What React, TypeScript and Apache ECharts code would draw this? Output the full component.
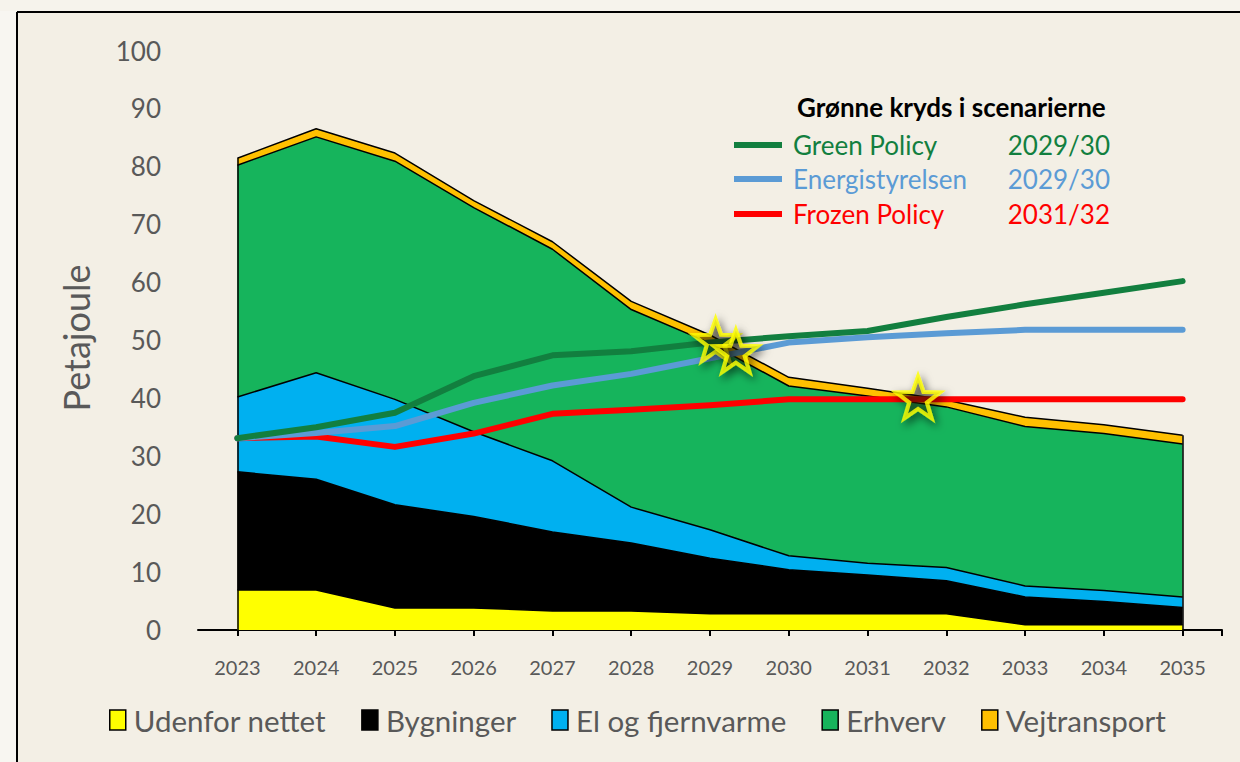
import React, { useEffect, useRef } from 'react';
import * as echarts from 'echarts';

const years = ['2023', '2024', '2025', '2026', '2027', '2028', '2029', '2030', '2031', '2032', '2033', '2034', '2035'];

const areaNames = ['Udenfor nettet', 'Bygninger', 'El og fjernvarme', 'Erhverv', 'Vejtransport'];
const areaColors = ['#FFFF00', '#000000', '#00B0F0', '#16B45C', '#FFC000'];

const udenforNettet = [6.9, 6.9, 3.8, 3.8, 3.3, 3.3, 2.8, 2.8, 2.8, 2.8, 0.9, 0.9, 0.9];
const bygninger = [20.4, 19.1, 17.8, 15.8, 13.6, 11.7, 9.6, 7.6, 6.7, 5.7, 4.8, 4.0, 3.0];
const elOgFjernvarme = [12.9, 18.4, 18.2, 14.6, 12.3, 6.2, 4.9, 2.4, 2.0, 2.3, 1.9, 1.9, 1.8];
const erhverv = [40.0, 40.7, 41.1, 38.7, 36.5, 34.1, 32.2, 29.3, 28.9, 27.7, 27.5, 27.1, 26.4];
const vejtransport = [1.2, 1.4, 1.4, 1.2, 1.3, 1.4, 1.4, 1.5, 1.3, 1.2, 1.6, 1.5, 1.5];

const scenarioNames = ['Green Policy', 'Energistyrelsen', 'Frozen Policy'];
const scenarioYears = ['2029/30', '2029/30', '2031/32'];
const scenarioColors = ['#127F3F', '#5B9BD5', '#FF0000'];
const greenPolicy = [33.1, 35.0, 37.5, 43.8, 47.4, 48.1, 49.6, 50.7, 51.6, 54.0, 56.2, 58.2, 60.2];
const energistyrelsen = [33.1, 34.0, 35.2, 39.2, 42.2, 44.2, 46.9, 49.6, 50.5, 51.2, 51.8, 51.8, 51.8];
const frozenPolicy = [33.1, 33.4, 31.6, 33.9, 37.3, 38.0, 38.8, 39.8, 39.8, 39.8, 39.8, 39.8, 39.8];

const yMin = 0;
const yMax = 100;
const yInterval = 10;

const areaData = [udenforNettet, bygninger, elOgFjernvarme, erhverv, vejtransport];
const scenarioData = [greenPolicy, energistyrelsen, frozenPolicy];

function starSymbol(): string {
  const pts: string[] = [];
  for (let k = 0; k < 10; k++) {
    const r = k % 2 === 0 ? 1 : 0.4;
    const a = -Math.PI / 2 + (k * Math.PI) / 5;
    pts.push(`${(r * Math.cos(a) * 50 + 50).toFixed(2)} ${(r * Math.sin(a) * 50 + 50).toFixed(2)}`);
  }
  return 'path://M' + pts.join(' L') + ' Z';
}

export default function App() {
  const ref = useRef<HTMLDivElement>(null);

  useEffect(() => {
    if (!ref.current) return;
    const chart = echarts.init(ref.current, undefined, { renderer: 'svg' });

    const n = years.length;
    const totals = years.map((_, i) => areaData.reduce((s, a) => s + a[i], 0));
    const belowTop = years.map((_, i) => areaData.slice(0, 4).reduce((s, a) => s + a[i], 0));
    const mid = years.map((_, i) => belowTop[i] + vejtransport[i] / 2);
    const firstYear = Number(years[0]);

    const crossings = scenarioData.map((s) => {
      for (let i = 0; i < n - 1; i++) {
        const d0 = mid[i] - s[i];
        const d1 = mid[i + 1] - s[i + 1];
        if (d0 >= 0 && d1 < 0) {
          const t = d0 / (d0 - d1);
          return [firstYear + i + t, s[i] + t * (s[i + 1] - s[i])];
        }
      }
      return null;
    }).filter(Boolean);

    const areaSeries = areaNames.map((name, k) => ({
      name,
      type: 'line',
      stack: 'total',
      data: areaData[k],
      symbol: 'none',
      color: areaColors[k],
      itemStyle: { color: areaColors[k] },
      lineStyle: { color: '#000', width: 1.5 },
      areaStyle: { color: areaColors[k], opacity: 1 },
      z: 2,
      silent: true,
      markLine: k === areaNames.length - 1 ? {
        silent: true,
        symbol: 'none',
        label: { show: false },
        lineStyle: { color: '#000', width: 1.5, type: 'solid' },
        data: [
          [{ coord: [years[0], 0] }, { coord: [years[0], totals[0]] }],
          [{ coord: [years[n - 1], 0] }, { coord: [years[n - 1], totals[n - 1]] }],
        ],
      } : undefined,
    }));

    const lineOrder = [2, 1, 0];
    const scenarioSeries = lineOrder.map((k) => ({
      name: scenarioNames[k],
      type: 'line',
      data: scenarioData[k],
      symbol: 'none',
      lineStyle: { color: scenarioColors[k], width: 6, cap: 'round', join: 'round' },
      itemStyle: { color: scenarioColors[k] },
      z: 5,
      silent: true,
    }));

    const legendEntryY = [145, 179, 214];
    const graphics: any[] = [
      { type: 'rect', shape: { x: 0, y: 0, width: 16, height: 762 }, style: { fill: '#F8F6F1' }, silent: true },
      { type: 'rect', shape: { x: 0, y: 0, width: 1240, height: 11 }, style: { fill: '#F6F3EC' }, silent: true },
      { type: 'line', shape: { x1: 17, y1: 12, x2: 1240, y2: 12 }, style: { stroke: '#000', lineWidth: 2 }, silent: true },
      { type: 'line', shape: { x1: 17, y1: 12, x2: 17, y2: 762 }, style: { stroke: '#000', lineWidth: 2 }, silent: true },
      { type: 'line', shape: { x1: 1222, y1: 630, x2: 1222, y2: 636 }, style: { stroke: '#000', lineWidth: 2 }, silent: true },
      {
        type: 'text', x: 76, y: 338, rotation: Math.PI / 2,
        style: { text: 'Petajoule', fill: '#595959', font: '36px Lato', align: 'center', verticalAlign: 'middle' },
        silent: true,
      },
      {
        type: 'text', x: 797, y: 107,
        style: { text: 'Grønne kryds i scenarierne', fill: '#000', font: 'bold 26px Lato', align: 'left', verticalAlign: 'middle' },
        silent: true,
      },
    ];
    scenarioNames.forEach((name, k) => {
      const yy = legendEntryY[k];
      graphics.push(
        { type: 'line', shape: { x1: 734, y1: yy, x2: 782, y2: yy }, style: { stroke: scenarioColors[k], lineWidth: 6 }, silent: true },
        { type: 'text', x: 793, y: yy, style: { text: name, fill: scenarioColors[k], font: '26px Lato', align: 'left', verticalAlign: 'middle' }, silent: true },
        { type: 'text', x: 1110, y: yy, style: { text: scenarioYears[k], fill: scenarioColors[k], font: '26px Lato', align: 'right', verticalAlign: 'middle' }, silent: true },
      );
    });

    chart.setOption({
      animation: false,
      backgroundColor: '#F3EFE5',
      textStyle: { fontFamily: 'Lato' },
      grid: { left: 198, right: 18, top: 50.5, bottom: 132, containLabel: false },
      xAxis: [
        {
          type: 'category',
          data: years,
          boundaryGap: true,
          axisLine: { show: true, lineStyle: { color: '#000', width: 2 } },
          axisTick: { show: true, alignWithLabel: true, length: 6, lineStyle: { color: '#000', width: 2 } },
          axisLabel: { color: '#595959', fontSize: 20, fontFamily: 'Lato', margin: 27 },
          splitLine: { show: false },
        },
        {
          type: 'value',
          min: firstYear - 0.5,
          max: firstYear + n - 0.5,
          show: false,
          splitLine: { show: false },
        },
      ],
      yAxis: {
        type: 'value',
        min: yMin,
        max: yMax,
        interval: yInterval,
        axisLine: { show: false },
        axisTick: { show: false },
        splitLine: { show: false },
        axisLabel: { color: '#595959', fontSize: 26, fontFamily: 'Lato', margin: 37 },
      },
      legend: {
        data: areaNames,
        left: 104,
        top: 700,
        icon: 'rect',
        itemWidth: 16,
        itemHeight: 20,
        itemGap: 35,
        itemStyle: { borderColor: '#000', borderWidth: 1.5 },
        textStyle: { color: '#595959', fontSize: 29.5, fontFamily: 'Lato', padding: [0, 0, 0, 3] },
        selectedMode: false,
      },
      graphic: graphics,
      series: [
        ...areaSeries,
        ...scenarioSeries,
        {
          name: 'Krydspunkter',
          type: 'scatter',
          xAxisIndex: 1,
          yAxisIndex: 0,
          data: crossings,
          symbol: starSymbol(),
          symbolSize: [44, 42],
          symbolOffset: [0, -2],
          itemStyle: {
            color: 'rgba(30,20,0,0.4)',
            borderColor: '#FFFF00',
            borderWidth: 4,
            shadowBlur: 8,
            shadowColor: 'rgba(0,0,0,0.7)',
            shadowOffsetX: 3,
            shadowOffsetY: 4,
          },
          z: 10,
          silent: true,
        },
      ],
    } as any);

    return () => chart.dispose();
  }, []);

  return <div ref={ref} style={{ position: 'absolute', left: 0, top: 0, width: 1240, height: 762 }} />;
}
